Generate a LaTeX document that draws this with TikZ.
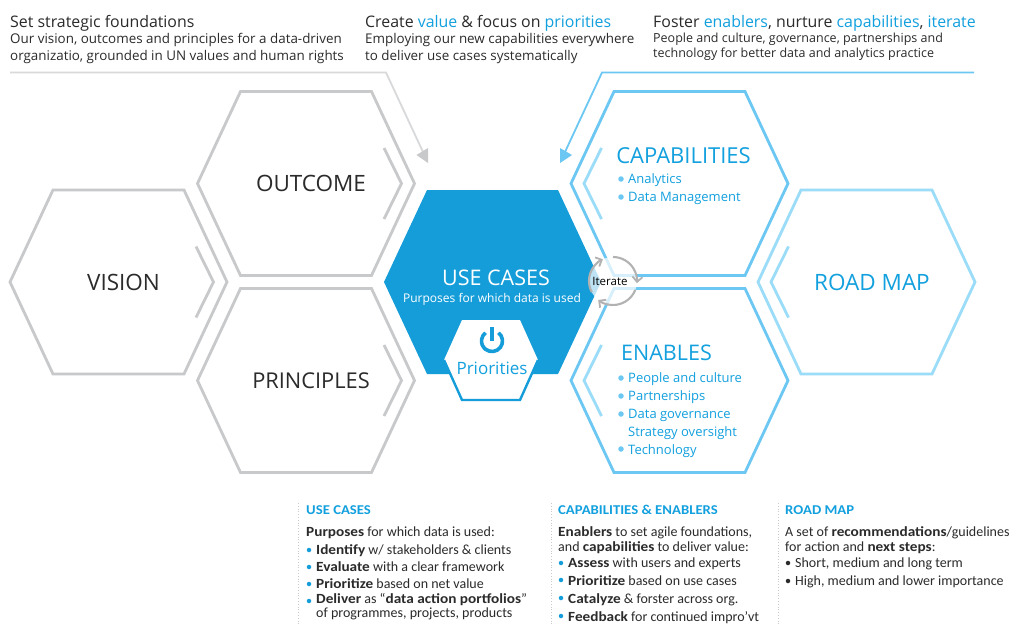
\documentclass[tikz,border=0pt]{standalone}
\usepackage{fontspec}
\setmainfont{Open Sans}
\newfontfamily\cond[BoldFeatures={FakeStretch=1.09}]{Carlito}
\usetikzlibrary{arrows.meta}
\definecolor{hexgrey}{HTML}{C8C9CB}
\definecolor{corebl}{HTML}{159DD9}
\definecolor{capbl}{HTML}{6CC8F2}
\definecolor{roadbl}{HTML}{9BDCF8}
\definecolor{txtbl}{HTML}{12A0DE}
\definecolor{ink}{HTML}{2B2B2B}
\newcommand{\bl}[1]{\textcolor{txtbl}{#1}}
\tikzset{
  x=1pt,y=-1pt,
  hexline/.style={line width=2.8pt,line join=miter,miter limit=10},
  chev/.style={line width=2.8pt},
  hextitle/.style={font=\fontsize{22.5}{22.5}\selectfont,text=ink,inner sep=0pt,anchor=center},
  bluetitle/.style={hextitle,text=txtbl},
  head/.style={font=\fontsize{15.9}{15.9}\selectfont,text=ink,inner sep=0pt,anchor=base west},
  sub/.style={font=\fontsize{13.4}{13.4}\selectfont,text=ink,inner sep=0pt,anchor=base west},
  subb/.style={sub,font=\fontsize{12.5}{12.5}\selectfont},
  item/.style={font=\fontsize{13}{13}\selectfont,text=txtbl,inner sep=0pt,anchor=base west},
  dot/.style={circle,fill=capbl,inner sep=0pt,minimum size=5.5pt},
  small/.style={font=\cond\fontsize{14}{14}\selectfont,text=ink,inner sep=0pt,anchor=base west},
  smallhd/.style={small,font=\cond\bfseries\fontsize{13.5}{13.5}\selectfont,text=txtbl},
  sdot/.style={circle,fill=corebl,inner sep=0pt,minimum size=4.5pt},
  kdot/.style={circle,fill=ink,inner sep=0pt,minimum size=4.5pt},
  rule/.style={line width=0.8pt,hexgrey,dotted},
  itarc/.style={line width=2.1pt,color=black!30,-{Straight Barb[length=5pt,width=10pt,line width=1.8pt]}},
}
% centre x, centre y, colour
\newcommand{\hexa}[3]{\draw[hexline,#3] (#1-108.5,#2) -- (#1-65.5,#2-92) -- (#1+65.5,#2-92) -- (#1+108.5,#2) -- (#1+65.5,#2+92) -- (#1-65.5,#2+92) -- cycle;}
\newcommand{\chevR}[3]{\draw[chev,#3] (#1+72.5,#2-35.5) -- (#1+90,#2) -- (#1+72.5,#2+35.5);}
\newcommand{\chevL}[3]{\draw[chev,#3] (#1-72.5,#2-35.5) -- (#1-90,#2) -- (#1-72.5,#2+35.5);}
\begin{document}
\begin{tikzpicture}
\useasboundingbox (0,0) rectangle (1011,626);
\fill[white] (0,0) rectangle (1011,626);
% grey hexagons
\hexa{118.5}{282}{hexgrey}\chevR{123.5}{282}{hexgrey}
\hexa{306}{183.5}{hexgrey}\chevR{311.5}{183.5}{hexgrey}
\hexa{306}{380.5}{hexgrey}\chevR{311.5}{380.5}{hexgrey}
% blue hexagons
\hexa{679.5}{183.5}{capbl}\chevL{674}{183.5}{roadbl}
\hexa{679.5}{380.5}{capbl}\chevL{674}{380.5}{roadbl}
\hexa{866.5}{282}{roadbl}\chevL{861}{282}{roadbl}
% core
\fill[corebl] (384,282) -- (427,190) -- (558,190) -- (601,282) -- (558,374) -- (427,374) -- cycle;
\fill[white] (444,360) -- (462,320) -- (520,320) -- (538,360) -- (520,400) -- (462,400) -- cycle;
\draw[line width=2.4pt,corebl,line join=miter] (444,360) -- (462,400) -- (520,400) -- (538,360);
% power icon
\coordinate (pw) at (492,341);
\draw[line width=3.6pt,corebl] ([shift={(-52:10.5)}]pw) arc[start angle=-52,end angle=232,radius=10.5];
\draw[line width=4pt,corebl] (492,327) -- (pw);
% guide lines
\coordinate (gs) at (10,72.5); \coordinate (gk) at (386,72.5); \coordinate (gt) at (428,163);
\coordinate (bs) at (974,72.5); \coordinate (bk) at (602,72.5); \coordinate (bt) at (560,163);
\draw[line width=1.8pt,hexgrey!70] (gs) -- (gk) -- (423,152);
\fill[hexgrey] (gt) -- (416.5,155) -- (428,148) -- cycle;
\draw[line width=1.8pt,capbl] (bs) -- (bk) -- (565,152);
\fill[capbl] (bt) -- (560,148) -- (572,155) -- cycle;
% iterate
\coordinate (ic) at (613,281);
\fill[white,opacity=.72] (ic) circle[radius=24];
\draw[itarc] ([shift={(152:24)}]ic) arc[start angle=152,end angle=245,radius=24];
\draw[itarc] ([shift={(270:24)}]ic) arc[start angle=270,end angle=365,radius=24];
\draw[itarc] ([shift={(22:24)}]ic) arc[start angle=22,end angle=128,radius=24];
\node[font=\fontsize{11.5}{11.5}\selectfont,text=black,inner sep=0pt] (iter) at (610,281) {Iterate};
% titles
\node[hextitle] (vision) at (123.5,282.5) {VISION};
\node[hextitle] (outcome) at (311,183.5) {OUTCOME};
\node[hextitle,font=\fontsize{21.8}{21.8}\selectfont] (principles) at (311,380.5) {PRINCIPLES};
\node[bluetitle,font=\fontsize{22}{22}\selectfont] (capabilities) at (683.5,155.5) {CAPABILITIES};
\node[bluetitle,font=\fontsize{21.5}{21.5}\selectfont] (enables) at (666.5,352.5) {ENABLES};
\node[bluetitle] (roadmap) at (872,282.5) {ROAD MAP};
\node[hextitle,text=white,font=\fontsize{21.5}{21.5}\selectfont] (usecases) at (496,278) {USE CASES};
\node[font=\fontsize{12}{12}\selectfont,text=white,inner sep=0pt] (purposes) at (492,299) {Purposes for which data is used};
\node[font=\fontsize{17}{17}\selectfont,text=txtbl,inner sep=0pt] (priorities) at (492,368) {Priorities};
% capability items
\node[dot] (d1) at (621,179) {}; \node[item] (t1) at (628,183) {Analytics};
\node[dot] (d2) at (621,197) {}; \node[item] (t2) at (628,201) {Data Management};
\node[dot] (d3) at (621,378) {}; \node[item] (t3) at (628,382) {People and culture};
\node[dot] (d4) at (621,396) {}; \node[item] (t4) at (628,400) {Partnerships};
\node[dot] (d5) at (621,414) {}; \node[item] (t5) at (628,418) {Data governance};
\node[item] (t6) at (628,436) {Strategy oversight};
\node[dot] (d7) at (621,449) {}; \node[item] (t7) at (628,454) {Technology};
% top texts
\node[head] (h1) at (10,27.5) {Set strategic foundations};
\node[sub] (s1a) at (10,43.5) {Our vision, outcomes and principles for a data-driven};
\node[sub] (s1b) at (10,60.5) {organizatio, grounded in UN values and human rights};
\node[head] (h2) at (365,27.5) {Create \bl{value} \& focus on \bl{priorities}};
\node[sub] (s2a) at (365,43.5) {Employing our new capabilities everywhere};
\node[sub] (s2b) at (365,60.5) {to deliver use cases systematically};
\node[head] (h3) at (653,27.5) {Foster \bl{enablers}, nurture \bl{capabilities}, \bl{iterate}};
\node[subb] (s3a) at (653,42) {People and culture, governance, partnerships and};
\node[subb] (s3b) at (653,58) {technology for better data and analytics practice};
% bottom columns
\coordinate (r1a) at (298,503); \coordinate (r1b) at (298,626);
\coordinate (r2a) at (551,503); \coordinate (r2b) at (551,626);
\coordinate (r3a) at (778,503); \coordinate (r3b) at (778,626);
\draw[rule] (r1a) -- (r1b); \draw[rule] (r2a) -- (r2b); \draw[rule] (r3a) -- (r3b);
\node[smallhd] at (306,514) {USE CASES};
\node[small] at (306,536) {\textbf{Purposes} for which data is used:};
\node[sdot] at (309,550) {}; \node[small] at (316,554) {\textbf{Identify} w/ stakeholders \& clients};
\node[sdot] at (309,567) {}; \node[small] at (316,571) {\textbf{Evaluate} with a clear framework};
\node[sdot] at (309,584) {}; \node[small] at (316,588) {\textbf{Prioritize} based on net value};
\node[sdot] at (309,601) {}; \node[small] at (316,603) {\textbf{Deliver} as “\textbf{data action portfolios}”};
\node[small] at (316,617) {of programmes, projects, products};
\node[smallhd] at (558,514) {CAPABILITIES \& ENABLERS};
\node[small] at (558,536) {\textbf{Enablers} to set agile foundations,};
\node[small] at (558,551) {and \textbf{capabilities} to deliver value:};
\node[sdot] at (561,563) {}; \node[small] at (568,567) {\textbf{Assess} with users and experts};
\node[sdot] at (561,580) {}; \node[small] at (568,585) {\textbf{Prioritize} based on use cases};
\node[sdot] at (561,598) {}; \node[small] at (568,603) {\textbf{Catalyze} \& forster across org.};
\node[sdot] at (561,616) {}; \node[small] at (568,621) {\textbf{Feedback} for continued impro’vt};
\node[smallhd] at (785,514) {ROAD MAP};
\node[small] at (785,536) {A set of \textbf{recommendations}/guidelines};
\node[small] at (785,551) {for action and \textbf{next steps}:};
\node[kdot] at (788,563) {}; \node[small] at (795,567) {Short, medium and long term};
\node[kdot] at (788,581) {}; \node[small] at (795,585) {High, medium and lower importance};
\end{tikzpicture}
\end{document}
